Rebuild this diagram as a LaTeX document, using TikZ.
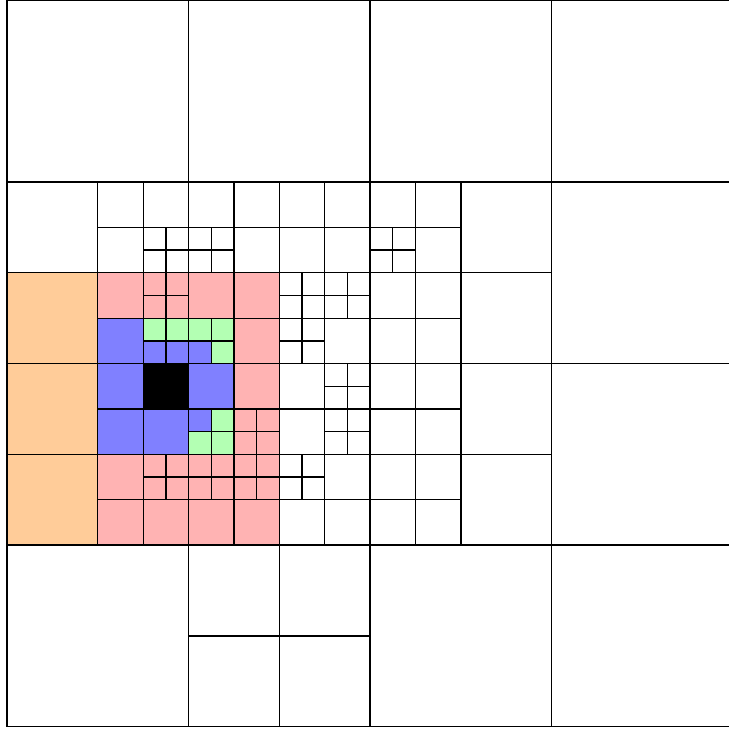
\documentclass[tikz,border=0pt]{standalone}
\usepackage{tikz}
\definecolor{Peach}{RGB}{255, 204, 153}
\definecolor{SoftRed}{RGB}{255, 179, 179}
\definecolor{SoftBlue}{RGB}{128, 128, 255}
\definecolor{SoftGreen}{RGB}{179, 255, 179}

% one square cell: style, corner x, corner y, size
\newcommand{\qcell}[4][cell]{\draw[#1] (#2,#3) rectangle ++(#4,#4);}
% a 2x2 block split into four unit cells
\newcommand{\qsplit}[3][cell]{\foreach \i in {0,1} {\foreach \j in {0,1} {\draw[#1] (#2+\i,#3+\j) rectangle ++(1,1);}}}

\begin{document}
\begin{tikzpicture}[
            x=0.25cm, y=-0.25cm,
            cell/.style={draw=black, line width=0.4pt, fill=white},
            outer/.style={cell, fill=Peach},
            ring/.style={cell, fill=SoftRed},
            near/.style={cell, fill=SoftBlue},
            inner/.style={cell, fill=SoftGreen},
            core/.style={cell, fill=black}
        ]
        \useasboundingbox (-0.31,-0.02) rectangle (31.78,32.28);

        % --- POZIOM 0: duze komorki ---
        \foreach \x/\y in {0/0,8/0,16/0,24/0,24/8,24/16,0/24,16/24,24/24}
            \qcell{\x}{\y}{8};

        % --- POZIOM 1: cwiartki ---
        \foreach \x/\y in {0/8,20/8,20/12,20/16,20/20,8/24,12/24,8/28,12/28}
            \qcell{\x}{\y}{4};
        \foreach \y in {12,16,20}
            \qcell[outer]{0}{\y}{4};

        % --- POZIOM 2: biale ---
        \foreach \x/\y in {4/8,6/8,4/10,8/8,10/8,10/10,12/8,14/8,12/10,14/10,14/14,
                           16/8,18/8,18/10,16/12,18/12,16/14,18/14,12/16,12/18,
                           14/20,12/22,14/22,16/16,18/16,16/18,18/18,16/20,18/20,16/22,18/22}
            \qcell{\x}{\y}{2};

        % Czerwony pierscien
        \foreach \x/\y in {4/12,8/12,10/12,10/14,10/16,4/20,4/22,6/22,8/22,10/22}
            \qcell[ring]{\x}{\y}{2};

        % Niebieski i srodek
        \foreach \x/\y in {4/14,4/16,8/16,4/18,6/18}
            \qcell[near]{\x}{\y}{2};
        \qcell[core]{6}{16}{2};

        % --- POZIOM 3: najmniejsze komorki ---
        \foreach \x/\y in {6/10,8/10,16/10,12/12,14/12,12/14,14/16,14/18,12/20}
            \qsplit{\x}{\y};
        \foreach \x/\y in {6/12,10/18,6/20,8/20,10/20}
            \qsplit[ring]{\x}{\y};

        % Mieszane bloki (zielony / niebieski)
        \foreach \x/\y in {6/14,7/14,8/14,9/14,9/15,9/18,8/19,9/19}
            \qcell[inner]{\x}{\y}{1};
        \foreach \x/\y in {6/15,7/15,8/15,8/18}
            \qcell[near]{\x}{\y}{1};

        \end{tikzpicture}
\end{document}
